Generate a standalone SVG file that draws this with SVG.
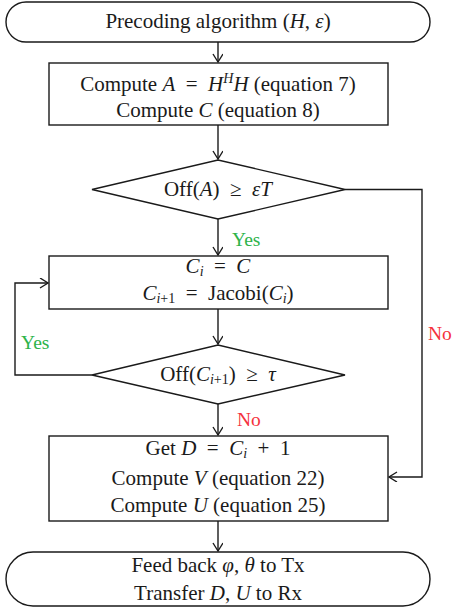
<svg xmlns="http://www.w3.org/2000/svg" width="452" height="611" viewBox="0 0 452 611">
<style>
.shape{fill:#fff;stroke:#1a1a1a;stroke-width:1.4}
.t{font-family:"Liberation Serif","Times New Roman",serif;font-size:21px;fill:#1a1a1a;text-anchor:middle}
.i{font-style:italic}
.s{font-size:14px}
.yes{font-family:"Liberation Serif","Times New Roman",serif;font-size:19.5px;fill:#2db34a}
.no{font-family:"Liberation Serif","Times New Roman",serif;font-size:19.5px;fill:#f5313c}
.c{fill:none;stroke:#1a1a1a;stroke-width:1.4}
</style>
<defs>
<marker id="ah" markerWidth="12" markerHeight="12" refX="9" refY="5" orient="auto" markerUnits="userSpaceOnUse">
<polyline points="1,0 9,5 1,10" fill="none" stroke="#1a1a1a" stroke-width="1.4"/>
</marker>
</defs>
<g id="connectors">
<line class="c" x1="218" y1="42" x2="218" y2="62" marker-end="url(#ah)"/>
<line class="c" x1="218" y1="125" x2="218" y2="159" marker-end="url(#ah)"/>
<line class="c" x1="218" y1="219" x2="218" y2="255" marker-end="url(#ah)"/>
<line class="c" x1="218" y1="309" x2="218" y2="344" marker-end="url(#ah)"/>
<line class="c" x1="218" y1="404" x2="218" y2="435" marker-end="url(#ah)"/>
<line class="c" x1="218" y1="521" x2="218" y2="551" marker-end="url(#ah)"/>
<polyline class="c" points="345,189.5 422,189.5 422,477 389,477" marker-end="url(#ah)"/>
<polyline class="c" points="92,375 15,375 15,283 48,283" marker-end="url(#ah)"/>
<text class="yes" x="232" y="246">Yes</text>
<text class="yes" x="21" y="349">Yes</text>
<text class="no" x="237" y="426">No</text>
<text class="no" x="428" y="340">No</text>
</g>
<g id="start">
<rect class="shape" x="6" y="2" width="424" height="40" rx="20" ry="20"/>
<text class="t" x="218" y="28">Precoding algorithm (<tspan class="i">H</tspan>, <tspan class="i">ε</tspan>)</text>
</g>
<g id="compute-a">
<rect class="shape" x="49" y="63" width="339" height="62"/>
<text class="t" x="218" y="91" xml:space="preserve">Compute <tspan class="i">A</tspan>  =  <tspan class="i">H</tspan><tspan class="i s" dy="-8">H</tspan><tspan class="i" dy="8">H</tspan> (equation 7)</text>
<text class="t" x="218" y="117">Compute <tspan class="i">C</tspan> (equation 8)</text>
</g>
<g id="check-a">
<polygon class="shape" points="92,189.5 218,160 345,189.5 218,219"/>
<text class="t" x="218" y="196" xml:space="preserve">Off(<tspan class="i">A</tspan>)  ≥  <tspan class="i">εT</tspan></text>
</g>
<g id="jacobi">
<rect class="shape" x="49" y="256" width="339" height="53"/>
<text class="t" x="218" y="273" xml:space="preserve"><tspan class="i">C</tspan><tspan class="i s" dy="3">i</tspan><tspan dy="-3">  =  </tspan><tspan class="i">C</tspan></text>
<text class="t" x="218" y="300" xml:space="preserve"><tspan class="i">C</tspan><tspan class="s" dy="3"><tspan class="i">i</tspan>+1</tspan><tspan dy="-3">  =  Jacobi(</tspan><tspan class="i">C</tspan><tspan class="i s" dy="3">i</tspan><tspan dy="-3">)</tspan></text>
</g>
<g id="check-c">
<polygon class="shape" points="92,375 218,345 345,375 218,404"/>
<text class="t" x="218" y="381" xml:space="preserve">Off(<tspan class="i">C</tspan><tspan class="s" dy="3"><tspan class="i">i</tspan>+1</tspan><tspan dy="-3">)  ≥  </tspan><tspan class="i">τ</tspan></text>
</g>
<g id="compute-d">
<rect class="shape" x="49" y="436" width="339" height="85"/>
<text class="t" x="218" y="455" xml:space="preserve">Get <tspan class="i">D</tspan>  =  <tspan class="i">C</tspan><tspan class="i s" dy="3">i</tspan><tspan dy="-3">  +  1</tspan></text>
<text class="t" x="218" y="485">Compute <tspan class="i">V</tspan> (equation 22)</text>
<text class="t" x="218" y="512">Compute <tspan class="i">U</tspan> (equation 25)</text>
</g>
<g id="end">
<rect class="shape" x="6" y="552" width="424" height="54" rx="27" ry="27"/>
<text class="t" x="218" y="572">Feed back <tspan class="i">φ</tspan>, <tspan class="i">θ</tspan> to Tx</text>
<text class="t" x="218" y="600">Transfer <tspan class="i">D</tspan>, <tspan class="i">U</tspan> to Rx</text>
</g>
</svg>
